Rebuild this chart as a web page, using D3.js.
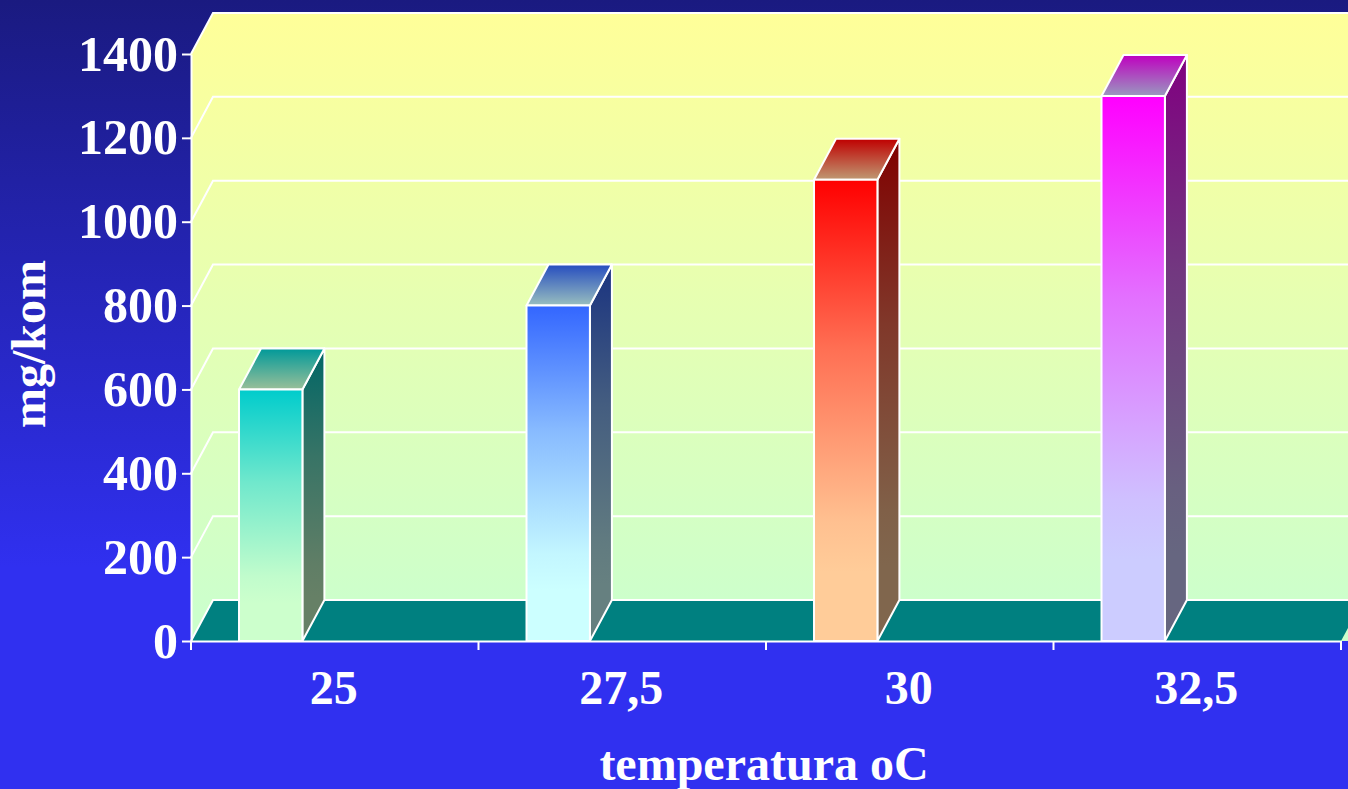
<!DOCTYPE html>
<html>
<head>
<meta charset="utf-8">
<script src="https://d3js.org/d3.v7.min.js"></script>
<style>
    html, body { margin: 0; padding: 0; background: #3030f0; overflow: hidden; }
    text { font-family: "Liberation Serif", serif; font-weight: bold; fill: #fff; }
</style>
</head>
<body>
<div id="chart"></div>
<script>
const categories = ['25', '27,5', '30', '32,5'];
const values = [600, 800, 1100, 1300];
const yTicks = [0, 200, 400, 600, 800, 1000, 1200, 1400];
const barTopColors = ['#00cccc', '#3366ff', '#ff0000', '#ff00ff'];
const barBottomColors = ['#ccffcc', '#ccffff', '#ffcc99', '#ccccff'];

const width = 1348;
const height = 789;
const depthX = 22;
const depthY = -41;

const x = d3.scaleBand().domain(categories).range([191, 1341]);
const y = d3.scaleLinear().domain([0, 1400]).range([641, 54]);

const barOffset = x.step() * 0.167;
const barWidth = x.step() * 0.2205;

const svg = d3.select('#chart')
    .append('svg')
    .attr('width', width)
    .attr('height', height)
    .style('display', 'block');

const defs = svg.append('defs');

function addGradient(id, stops) {
    const grad = defs.append('linearGradient')
        .attr('id', id)
        .attr('x1', 0).attr('y1', 0).attr('x2', 0).attr('y2', 1);
    stops.forEach(s => {
        grad.append('stop').attr('offset', s[0]).attr('stop-color', s[1]);
    });
}

function shade(color, k) {
    const c = d3.rgb(color);
    return d3.rgb(c.r * k, c.g * k, c.b * k).formatHex();
}

// The bar colours fade fast at first and run out above the foot of the bar
function barStops(top, bottom) {
    const mix = d3.interpolateRgb(top, bottom);
    return [[0, top], [0.37, mix(0.55)], [0.74, mix(0.94)], [0.85, bottom], [1, bottom]];
}

addGradient('bg', [[0, '#1a1a80'], [0.72, '#3030f0'], [1, '#3030f0']]);
addGradient('wall', [[0, '#ffff99'], [0.95, '#ccffcc'], [1, '#ccffcc']]);
categories.forEach((c, i) => {
    addGradient('front' + i, barStops(barTopColors[i], barBottomColors[i]));
    addGradient('side' + i, barStops(shade(barTopColors[i], 0.5), shade(barBottomColors[i], 0.5)));
    addGradient('top' + i, [[0, shade(barTopColors[i], 0.75)], [1, shade(barBottomColors[i], 0.75)]]);
});

svg.append('rect')
    .attr('width', width)
    .attr('height', height)
    .attr('fill', 'url(#bg)');

const x0 = x.range()[0];
const x1 = x.range()[1];
const poly = pts => pts.map(p => p.join(',')).join(' ');

// Back and side wall, one gradient across both
svg.append('polygon')
    .attr('points', poly([
        [x0, y(1400)], [x0 + depthX, y(1400) + depthY], [width, y(1400) + depthY],
        [width, y(0)], [x0, y(0)]
    ]))
    .attr('fill', 'url(#wall)');

// Floor
svg.append('polygon')
    .attr('points', poly([
        [x0, y(0)], [x0 + depthX, y(0) + depthY], [x1 + depthX, y(0) + depthY], [x1, y(0)]
    ]))
    .attr('fill', '#008080');

// Grid lines on the side and back walls
const grid = svg.append('g')
    .attr('fill', 'none')
    .attr('stroke', '#fff')
    .attr('stroke-width', 2);

grid.selectAll('path')
    .data(yTicks)
    .join('path')
    .attr('d', d => `M${x0},${y(d)}L${x0 + depthX},${y(d) + depthY}L${width},${y(d) + depthY}`);

// Bars
const bars = svg.append('g')
    .selectAll('g')
    .data(values)
    .join('g')
    .attr('stroke', '#fff')
    .attr('stroke-width', 2)
    .attr('stroke-linejoin', 'round');

const barLeft = i => x(categories[i]) + barOffset;

bars.append('polygon')
    .attr('fill', (d, i) => `url(#side${i})`)
    .attr('points', (d, i) => poly([
        [barLeft(i) + barWidth, y(d)],
        [barLeft(i) + barWidth + depthX, y(d) + depthY],
        [barLeft(i) + barWidth + depthX, y(0) + depthY],
        [barLeft(i) + barWidth, y(0)]
    ]));

bars.append('polygon')
    .attr('fill', (d, i) => `url(#top${i})`)
    .attr('points', (d, i) => poly([
        [barLeft(i), y(d)],
        [barLeft(i) + depthX, y(d) + depthY],
        [barLeft(i) + barWidth + depthX, y(d) + depthY],
        [barLeft(i) + barWidth, y(d)]
    ]));

bars.append('rect')
    .attr('fill', (d, i) => `url(#front${i})`)
    .attr('x', (d, i) => barLeft(i))
    .attr('y', d => y(d))
    .attr('width', barWidth)
    .attr('height', d => y(0) - y(d));

// Axes
const yAxis = svg.append('g')
    .attr('transform', `translate(${x0},0)`)
    .call(d3.axisLeft(y).tickValues(yTicks).tickFormat(d3.format('d')).tickSize(9).tickPadding(4).tickSizeOuter(0));

const xAxis = svg.append('g')
    .attr('transform', `translate(0,${y(0)})`)
    .call(d3.axisBottom(x).tickSize(0).tickPadding(29));

xAxis.selectAll('.tick text').attr('dx', -1);

// Ticks sit on the band edges, not at the band centres
xAxis.selectAll('.edge')
    .data(categories.concat(['end']))
    .join('line')
    .attr('class', 'edge')
    .attr('x1', (d, i) => x0 + i * x.step())
    .attr('x2', (d, i) => x0 + i * x.step())
    .attr('y1', 0)
    .attr('y2', 9);

[yAxis, xAxis].forEach(a => {
    a.selectAll('.domain, .tick line, line.edge').attr('stroke', '#fff').attr('stroke-width', 2);
    a.selectAll('text')
        .attr('fill', '#fff')
        .style('font-family', '"Liberation Serif", serif')
        .style('font-weight', 'bold')
        .style('font-size', a === yAxis ? '50px' : '48px');
});

svg.append('text')
    .attr('x', 764)
    .attr('y', 780)
    .attr('text-anchor', 'middle')
    .style('font-size', '48px')
    .text('temperatura oC');

svg.append('text')
    .attr('transform', 'translate(45,344) rotate(-90)')
    .attr('text-anchor', 'middle')
    .style('font-size', '48px')
    .text('mg/kom');
</script>
</body>
</html>
